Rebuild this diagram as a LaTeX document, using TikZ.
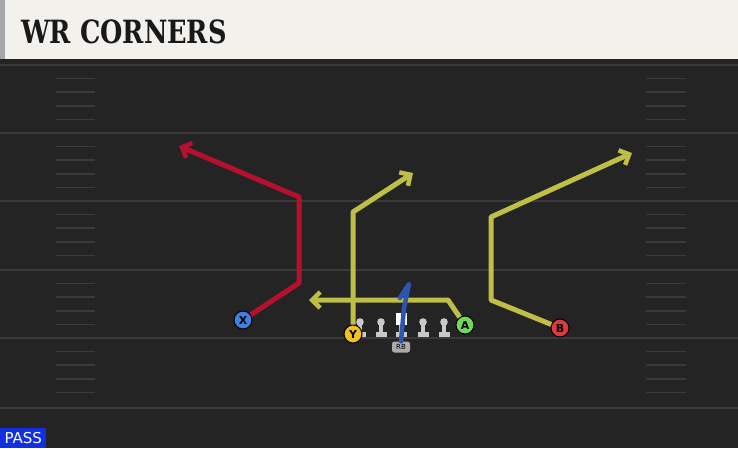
\documentclass[tikz,border=0pt]{standalone}
\usepackage{fontspec}
\setmainfont{DejaVu Sans}
\newfontfamily\titlefont{DejaVu Serif}
\usetikzlibrary{arrows.meta}

\definecolor{field}{HTML}{242424}
\definecolor{yardline}{HTML}{3A3A3A}
\definecolor{header}{HTML}{F3F1EB}
\definecolor{redroute}{HTML}{B5102E}
\definecolor{yelroute}{HTML}{BFBE46}
\definecolor{qbroute}{HTML}{2D56B3}
\definecolor{xblue}{HTML}{3F7FE0}
\definecolor{yyellow}{HTML}{F2C21B}
\definecolor{agreen}{HTML}{6CDB55}
\definecolor{bred}{HTML}{E0393D}
\definecolor{lineman}{HTML}{C9C9C9}
\definecolor{passblue}{HTML}{1230E0}

\begin{document}
\begin{tikzpicture}[x=1pt, y=-1pt,
  player/.style={circle, draw=black, line width=1pt, minimum size=18pt,
    inner sep=0pt, font=\bfseries\fontsize{11}{11}\selectfont},
  route/.style={line width=5pt, line join=round,
    -{Straight Barb[length=8pt, width=16pt, line width=4.5pt]}},
  yard/.style={draw=yardline, line width=2pt},
  hash/.style={draw=yardline, line width=1.5pt}]

  \useasboundingbox (0,0) rectangle (738,448);

  % field and header
  \fill[field] (0,0) rectangle (738,448);
  \fill[header] (0,0) rectangle (738,59);
  \fill[black!35] (0,0) rectangle (5,59);
  \node[anchor=west, font=\titlefont\bfseries\fontsize{32}{32}\selectfont,
    text=black!90, inner sep=0pt] (title) at (21,32)
    {\scalebox{0.8}[1]{WR CORNERS}};

  % yard lines and hashes
  \foreach \y in {65,133,201,270,338,408} {
    \draw[yard] (0,\y) -- (738,\y);
  }
  \foreach \y in {65,133,201,270,338} {
    \foreach \k in {1,...,4} {
      \draw[hash] (56,\y+\k*13.6) -- (95,\y+\k*13.6);
      \draw[hash] (646,\y+\k*13.6) -- (686,\y+\k*13.6);
    }
  }

  % offensive line
  \foreach \x in {360,381,423,444} {
    \fill[lineman] (\x,322) circle (3.8);
    \fill[lineman] (\x-2.2,322) rectangle (\x+2.2,333);
    \fill[lineman] (\x-5.5,332) rectangle (\x+5.5,337);
  }
  \fill[lineman] (399,322) rectangle (403,333);
  \fill[lineman] (395.5,332) rectangle (406.5,337);
  \fill[white] (396,313) rectangle (407,325);

  % players
  \node[player, fill=xblue] (x) at (243,320) {X};
  \node[player, fill=yyellow] (y) at (353,334) {Y};
  \node[player, fill=agreen] (a) at (465,325) {A};
  \node[player, fill=bred] (b) at (560,328) {B};
  \node[fill=lineman!85!black, rounded corners=2.5pt, inner sep=0pt,
    minimum width=18pt, minimum height=11pt,
    font=\fontsize{7}{7}\selectfont] (rb) at (401,347) {RB};

  % route points
  \coordinate (xbreak) at (299,283);
  \coordinate (xstem) at (299,197);
  \coordinate (xend) at (179,146);
  \coordinate (ystem) at (353,212);
  \coordinate (yend) at (413,173);
  \coordinate (abend) at (448,300);
  \coordinate (aend) at (309,300);
  \coordinate (bbreak) at (491,300);
  \coordinate (bstem) at (491,217);
  \coordinate (bend) at (632,153);

  \draw[route, redroute] (x) -- (xbreak) -- (xstem) -- (xend);
  \draw[route, yelroute] (y) -- (ystem) -- (yend);
  \draw[route, yelroute] (a) -- (abend) -- (aend);
  \draw[route, yelroute] (b) -- (bbreak) -- (bstem) -- (bend);

  % qb read
  \draw[qbroute, line width=4.5pt, line join=round, line cap=round]
    (rb.north) -- (404,308) -- (409,284) -- (400,298);

  % play type
  \node[fill=passblue, text=white, anchor=south west, inner sep=0pt,
    minimum width=46pt, minimum height=20pt,
    font=\fontsize{15}{15}\selectfont] (pass) at (0,448) {PASS};
\end{tikzpicture}
\end{document}
